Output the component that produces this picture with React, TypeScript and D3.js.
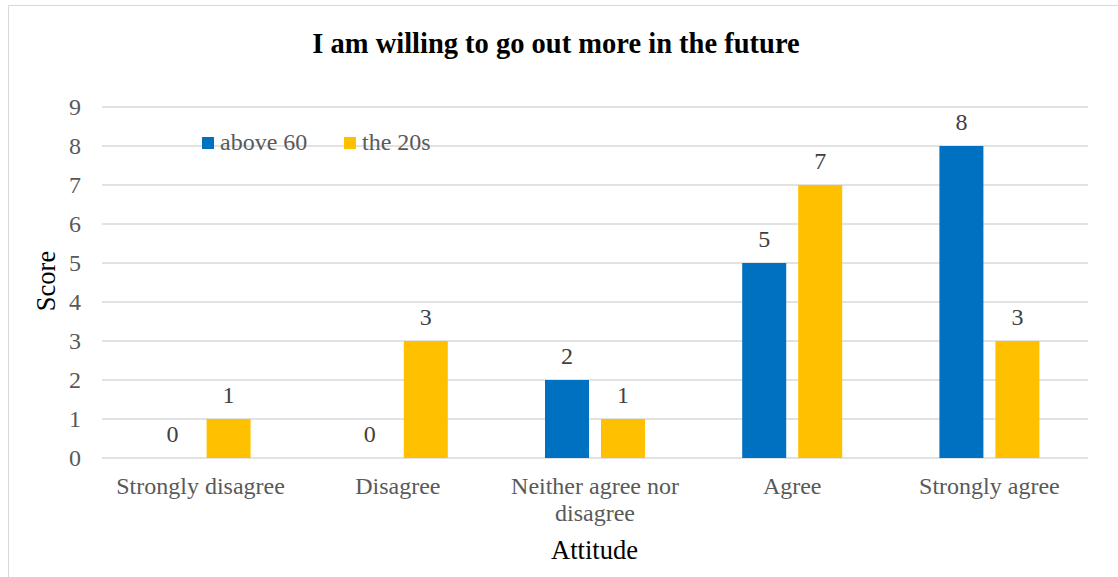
import React from "react";
import * as d3 from "d3";

const categories = ["Strongly disagree", "Disagree", "Neither agree nor disagree", "Agree", "Strongly agree"];
const categoryLines = [["Strongly disagree"], ["Disagree"], ["Neither agree nor", "disagree"], ["Agree"], ["Strongly agree"]];
const seriesNames = ["above 60", "the 20s"];
const above60 = [0, 0, 2, 5, 8];
const the20s = [1, 3, 1, 7, 3];
const yTicks = [0, 1, 2, 3, 4, 5, 6, 7, 8, 9];
const colors = ["#0070C0", "#FFC000"];

export default function App() {
  const W = 1118, H = 577;
  const left = 102, right = 1088, top = 107, bottom = 458;
  const x = d3.scaleBand<string>().domain(categories).range([left, right]).paddingInner(0).paddingOuter(0);
  const y = d3.scaleLinear().domain([0, 9]).range([bottom, top]);
  const barW = 44, gap = 12;
  const series = [above60, the20s];
  const font = "'Liberation Serif', 'Times New Roman', serif";
  const gray = "#595959";
  return (
    <svg width={W} height={H} style={{ position: "absolute", left: 0, top: 0 }} fontFamily={font}>
      <rect x={0} y={0} width={W} height={H} fill="#fff" />
      <rect x={8.5} y={5.5} width={W + 20} height={H + 20} fill="#fff" stroke="#d9d9d9" strokeWidth={1} />
      <text x={556} y={53} textAnchor="middle" fontWeight="bold" fontSize={28.5} fill="#000">
        I am willing to go out more in the future
      </text>
      {yTicks.map((t) => (
        <g key={t}>
          <line x1={left} x2={right} y1={y(t)} y2={y(t)} stroke="#d9d9d9" strokeWidth={1.5} />
          <text x={81} y={y(t) + 8} textAnchor="end" fontSize={24} fill={gray}>{t}</text>
        </g>
      ))}
      {categories.map((c, i) => {
        const cx = (x(c) as number) + x.bandwidth() / 2;
        return (
          <g key={c}>
            {series.map((s, j) => {
              const bx = cx + (j === 0 ? -gap / 2 - barW : gap / 2);
              const v = s[i];
              return (
                <g key={j}>
                  {v > 0 && (
                    <rect x={bx} y={y(v)} width={barW} height={y(0) - y(v)} fill={colors[j]} />
                  )}
                  <text x={bx + barW / 2} y={y(v) - 16.5} textAnchor="middle" fontSize={24} fill="#404040">{v}</text>
                </g>
              );
            })}
            {categoryLines[i].map((ln, k) => (
              <text key={k} x={cx} y={494 + k * 27} textAnchor="middle" fontSize={24} fill={gray}>{ln}</text>
            ))}
          </g>
        );
      })}
      {seriesNames.map((n, j) => {
        const lx = [202, 344][j];
        return (
          <g key={n}>
            <rect x={lx} y={137} width={12} height={12} fill={colors[j]} />
            <text x={lx + 18} y={149.5} fontSize={24} fill={gray}>{n}</text>
          </g>
        );
      })}
      <text transform={`translate(55,281) rotate(-90)`} textAnchor="middle" fontSize={26.5} fill="#000">Score</text>
      <text x={594.5} y={559} textAnchor="middle" fontSize={26.5} fill="#000">Attitude</text>
    </svg>
  );
}
